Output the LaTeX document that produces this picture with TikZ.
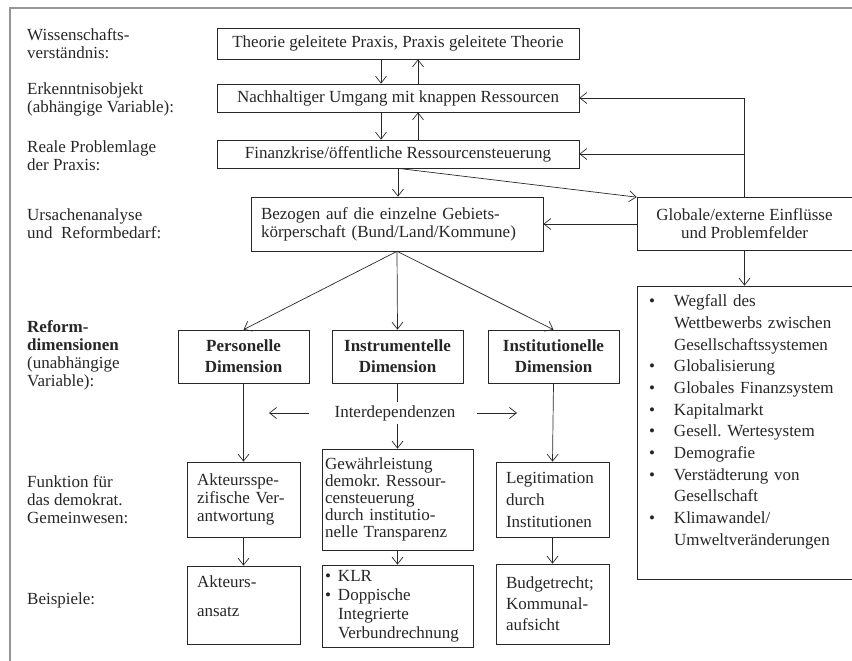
\documentclass[tikz,border=0pt]{standalone}
\usepackage{fontspec}
\setmainfont{Liberation Serif}
\usetikzlibrary{arrows.meta,positioning,calc}
\definecolor{rahmengrau}{RGB}{150,150,150}
\definecolor{linie}{RGB}{40,40,40}

\begin{document}
\begin{tikzpicture}[x=1pt,y=-1pt,>={Straight Barb[length=7pt,width=11pt]},
  font=\fontsize{17}{18}\selectfont,
  kasten/.style={draw=linie,line width=0.7pt,inner xsep=10pt,inner ysep=0pt,align=left,text=black!85},
  dim/.style={kasten,align=center,font=\fontsize{17}{21}\selectfont\bfseries,minimum width=131pt,minimum height=53pt},
  ebene/.style={anchor=west,align=left,inner sep=0pt,text=black!85},
  pfeil/.style={->,draw=linie,line width=0.7pt}]
  \useasboundingbox (0,0) rectangle (852,661);
  \draw[rahmengrau,line width=1.2pt] (10,661) -- (10,8) -- (852,8);

  \node[ebene] (wiss) at (27,44) {Wissenschafts-\\verständnis:};
  \node[ebene] (erk) at (27,99) {Erkenntnisobjekt\\(abhängige Variable):};
  \node[ebene] (real) at (27,156) {Reale Problemlage\\der Praxis:};
  \node[ebene] (urs) at (27,224) {Ursachenanalyse\\und~ Reformbedarf:};
  \node[ebene] (ref) at (27,355) {\textbf{Reform-}\\\textbf{dimensionen}\\(unabhängige\\Variable):};
  \node[ebene] (funk) at (27,500) {Funktion für\\das demokrat.\\Gemeinwesen:};
  \node[ebene] (bsp) at (27,600) {Beispiele:};

  \node[kasten,minimum width=362pt,minimum height=31pt,align=center] (theo) at (398,43.5) {Theorie geleitete Praxis, Praxis geleitete Theorie};
  \node[kasten,minimum width=362pt,minimum height=28pt,align=center] (umgang) at (398,98) {Nachhaltiger Umgang mit knappen Ressourcen};
  \node[kasten,minimum width=362pt,minimum height=28pt,align=center] (krise) at (398,154) {Finanzkrise/öffentliche Ressourcensteuerung};
  \node[kasten,minimum width=292pt,minimum height=54pt,text width=272pt] (bezug) at (397,224) {Bezogen auf die einzelne Gebiets-\\körperschaft (Bund/Land/Kommune)};
  \node[kasten,minimum width=215pt,minimum height=53pt,align=center] (global) at (744.5,224) {Globale/externe Einflüsse\\und Problemfelder};
  \node[kasten,minimum width=215pt,minimum height=293pt,inner xsep=12pt,text width=191pt,font=\fontsize{17}{21.7}\selectfont] (liste) at (744.5,432.5) {%
    \begin{tabular}{@{}p{25pt}@{}l@{}}
      \textbullet & Wegfall des\\
                  & Wettbewerbs zwischen\\
                  & Gesellschaftssystemen\\
      \textbullet & Globalisierung\\
      \textbullet & Globales Finanzsystem\\
      \textbullet & Kapitalmarkt\\
      \textbullet & Gesell.\ Wertesystem\\
      \textbullet & Demografie\\
      \textbullet & Verstädterung von\\
                  & Gesellschaft\\
      \textbullet & Klimawandel/\\
                  & Umweltveränderungen\\
                  & \\
    \end{tabular}};

  \node[dim] (pers) at (243.5,356.5) {Personelle\\Dimension};
  \node[dim] (instr) at (397.5,356.5) {Instrumentelle\\Dimension};
  \node[dim] (inst) at (553.5,356.5) {Institutionelle\\Dimension};
  \node[text=black!85] (inter) at (395,413) {Interdependenzen};
  \coordinate (links) at (269,413);
  \coordinate (rechts) at (517,413);

  \node[kasten,minimum width=111pt,minimum height=75pt,text width=93pt] (akt) at (243.5,499.5) {Akteursspe-\\zifische Ver-\\antwortung};
  \node[kasten,minimum width=151pt,minimum height=101pt,inner xsep=3pt,text width=145pt,font=\fontsize{17}{17}\selectfont] (gew) at (397.5,499.5) {Gewährleistung\\demokr.\ Ressour-\\censteuerung\\durch institutio-\\nelle Transparenz};
  \node[kasten,minimum width=111pt,minimum height=75pt,text width=93pt,font=\fontsize{17}{22}\selectfont] (legit) at (552.5,499.5) {Legitimation\\durch\\Institutionen};

  \node[kasten,minimum width=111pt,minimum height=78pt,text width=93pt] (aktans) at (243.5,605) {Akteurs-\\[11pt]ansatz\\\mbox{}};
  \node[kasten,minimum width=151pt,minimum height=82pt,inner xsep=3pt,text width=145pt,font=\fontsize{17}{19}\selectfont] (klr) at (397.5,606) {%
    \begin{tabular}{@{}p{13pt}@{}l@{}}
      \textbullet & KLR\\
      \textbullet & Doppische\\
                  & Integrierte\\
                  & Verbundrechnung
    \end{tabular}};
  \node[kasten,minimum width=111pt,minimum height=80pt,text width=93pt,font=\fontsize{17}{21}\selectfont] (budget) at (552.5,604) {Budgetrecht;\\Kommunal-\\aufsicht};

  \draw[pfeil] ([xshift=-17pt]theo.south) -- ([xshift=-17pt]umgang.north);
  \draw[pfeil] ([xshift=20pt]umgang.north) -- ([xshift=20pt]theo.south);
  \draw[pfeil] ([xshift=-17pt]umgang.south) -- ([xshift=-17pt]krise.north);
  \draw[pfeil] ([xshift=20pt]krise.north) -- ([xshift=20pt]umgang.south);
  \draw[pfeil] (krise.south) -- (krise.south |- bezug.north);
  \draw[pfeil] (krise.south) -- (global.north west);
  \draw[pfeil] (global.west) -- (bezug.east);
  \draw[pfeil] (global.north) |- (umgang.east);
  \draw[pfeil] (global.north |- krise.east) -- (krise.east);
  \draw[pfeil] (global.south) -- (liste.north);

  \draw[pfeil] (bezug.south) -- (pers.north);
  \draw[pfeil] (bezug.south) -- (instr.north);
  \draw[pfeil] (bezug.south) -- (inst.north);

  \draw[pfeil] (pers.south) -- (akt.north);
  \draw[pfeil,-] (instr.south) -- (instr.south |- inter.north);
  \draw[pfeil] (gew.north |- inter.south) -- (gew.north);
  \draw[pfeil] (inst.south) -- (legit.north);
  \draw[pfeil] ([xshift=-22pt]inter.west) -- (links);
  \draw[pfeil] ([xshift=18pt]inter.east) -- (rechts);

  \draw[pfeil] (akt.south) -- (aktans.north);
  \draw[pfeil] (gew.south) -- (klr.north);
  \draw[pfeil] (legit.south) -- (budget.north);
\end{tikzpicture}
\end{document}
